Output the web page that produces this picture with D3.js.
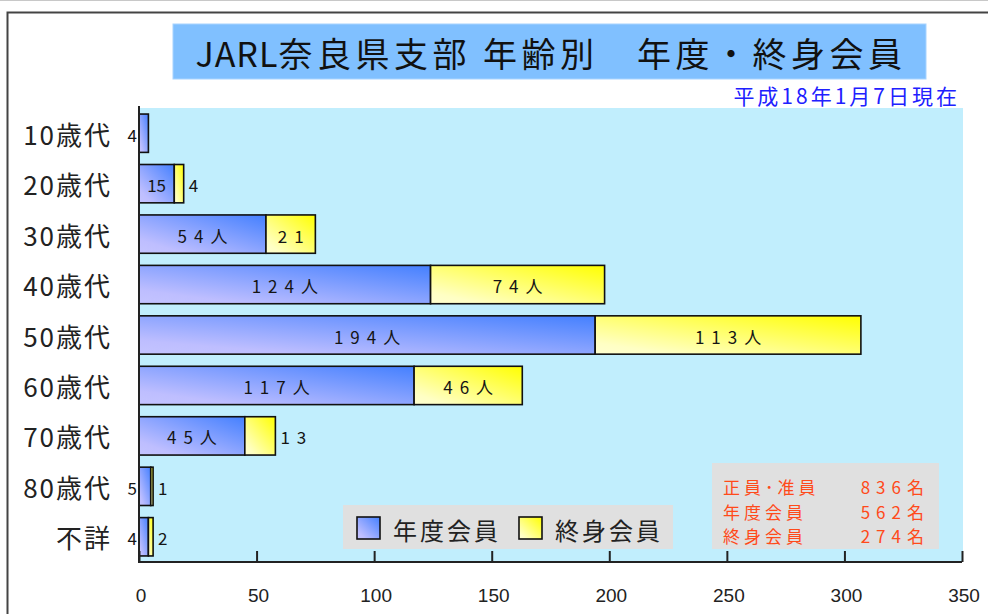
<!DOCTYPE html>
<html>
<head>
<meta charset="utf-8">
<script src="https://cdn.jsdelivr.net/npm/d3@7"></script>
<style>
  html, body { margin: 0; padding: 0; background: #fff; }
  svg { display: block; }
</style>
</head>
<body>
<svg id="chart"></svg>
<script>
// data
const categories = ['10歳代', '20歳代', '30歳代', '40歳代', '50歳代', '60歳代', '70歳代', '80歳代', '不詳'];
const annualMembers = [4, 15, 54, 124, 194, 117, 45, 5, 4];
const lifeMembers = [0, 4, 21, 74, 113, 46, 13, 1, 2];
const seriesNames = ['年度会員', '終身会員'];
const xTicks = [0, 50, 100, 150, 200, 250, 300, 350];
const summaryLabels = ['正員･准員', '年度会員', '終身会員'];
const summaryValues = [836, 562, 274];
const titleParts = ['JARL', '奈良県支部 年齢別　年度・終身会員'];
const subtitleText = '平成18年1月7日現在';

const width = 988;
const height = 614;
const plot = {left: 139, right: 962, top: 108, bottom: 562};
const jp = '"Noto Sans CJK JP", "Noto Sans", sans-serif';

const svg = d3.select('#chart')
  .attr('width', width)
  .attr('height', height)
  .attr('viewBox', [0, 0, width, height]);

// gradients for the two series
const defs = svg.append('defs');
const grads = [
  {id: 'gBlue', stops: [[0, '#c4c4ff'], [0.18, '#bebeff'], [1, '#4480ff']]},
  {id: 'gYellow', stops: [[0, '#ffffd0'], [0.15, '#ffffc4'], [1, '#ffff00']]}
];
grads.forEach(g => {
  const lg = defs.append('linearGradient')
    .attr('id', g.id)
    .attr('x1', 0).attr('y1', 1).attr('x2', 1).attr('y2', 0);
  g.stops.forEach(s => lg.append('stop').attr('offset', s[0]).attr('stop-color', s[1]));
});
const fills = ['url(#gBlue)', 'url(#gYellow)'];

// frame
svg.append('line').attr('x1', 0).attr('x2', width).attr('y1', 0.5).attr('y2', 0.5)
  .attr('stroke', '#c8c8c8');
svg.append('path').attr('d', `M7.5,${height}V12.5H${width}`)
  .attr('fill', 'none').attr('stroke', '#444').attr('stroke-width', 2);

// title
svg.append('rect')
  .attr('x', 173).attr('y', 24).attr('width', 753).attr('height', 55)
  .attr('fill', '#80c0ff').attr('stroke', '#a8d4ff');
const title = svg.append('text')
  .attr('x', 551).attr('y', 52)
  .attr('text-anchor', 'middle').attr('dominant-baseline', 'central')
  .attr('font-family', jp).attr('font-size', 34).attr('fill', '#111');
title.append('tspan').attr('letter-spacing', 1).text(titleParts[0]);
title.append('tspan').attr('letter-spacing', 4.5).text(titleParts[1]);

svg.append('text')
  .attr('x', 960).attr('y', 95)
  .attr('text-anchor', 'end').attr('dominant-baseline', 'central')
  .attr('letter-spacing', 3)
  .attr('font-family', jp).attr('font-size', 21).attr('fill', '#2020ff')
  .text(subtitleText);

// plot background
svg.append('rect')
  .attr('x', plot.left).attr('y', plot.top)
  .attr('width', plot.right - plot.left + 1).attr('height', plot.bottom - plot.top)
  .attr('fill', '#c1eefd');

const x = d3.scaleLinear().domain([0, 350]).range([plot.left, plot.right]);
const y = d3.scaleBand().domain(categories).range([plot.top, plot.bottom])
  .paddingInner(0.24).paddingOuter(0.12);

// stacked segments
const rows = categories.map((c, i) => ({
  cat: c,
  segs: [
    {s: 0, v: annualMembers[i], x0: 0, x1: annualMembers[i]},
    {s: 1, v: lifeMembers[i], x0: annualMembers[i], x1: annualMembers[i] + lifeMembers[i]}
  ]
}));

const rowG = svg.append('g').selectAll('g').data(rows).join('g');

rowG.selectAll('rect')
  .data(d => d.segs.filter(s => s.v > 0).map(s => ({...s, cat: d.cat})))
  .join('rect')
  .attr('x', d => x(d.x0))
  .attr('y', d => y(d.cat))
  .attr('width', d => x(d.x1) - x(d.x0))
  .attr('height', y.bandwidth())
  .attr('fill', d => fills[d.s])
  .attr('stroke', '#111')
  .attr('stroke-width', 1.6);

// value labels
const wideLs = 7;
rowG.selectAll('text')
  .data(d => d.segs.filter(s => s.v > 0).map(s => ({...s, cat: d.cat})))
  .join('text')
  .each(function(d) {
    const w = x(d.x1) - x(d.x0);
    const inside = d.v >= 15;
    const label = d.v >= 40 ? d.v + '人' : String(d.v);
    const ls = (inside && w < 45) || d.v < 10 ? 0 : wideLs;
    let px, anchor;
    if (inside) {
      px = (x(d.x0) + x(d.x1)) / 2 + ls / 2;
      anchor = 'middle';
    } else if (d.s === 0) {
      px = x(d.x0) - 2;
      anchor = 'end';
    } else {
      px = x(d.x1) + 5;
      anchor = 'start';
    }
    d3.select(this)
      .attr('x', px)
      .attr('y', y(d.cat) + y.bandwidth() / 2 + 1)
      .attr('text-anchor', anchor)
      .attr('dominant-baseline', 'central')
      .attr('letter-spacing', ls)
      .attr('font-family', jp)
      .attr('font-size', 17)
      .attr('fill', '#151515')
      .text(label);
  });

// category labels
svg.append('g').selectAll('text').data(categories).join('text')
  .attr('x', 112)
  .attr('y', d => y(d) + y.bandwidth() / 2)
  .attr('text-anchor', 'end')
  .attr('dominant-baseline', 'central')
  .attr('letter-spacing', 2)
  .attr('font-family', jp)
  .attr('font-size', 26)
  .attr('fill', '#222')
  .text(d => d);

// axes
const xAxis = svg.append('g')
  .attr('transform', `translate(0,${plot.bottom})`)
  .call(d3.axisTop(x).tickValues(xTicks).tickSize(11).tickFormat(''));
xAxis.select('.domain').attr('stroke', '#222').attr('stroke-width', 2)
  .attr('d', `M${plot.left},0H${plot.right}`);
xAxis.selectAll('.tick line').attr('stroke', '#222').attr('stroke-width', 2);

svg.append('g').selectAll('text').data(xTicks).join('text')
  .attr('x', d => x(d) + 2)
  .attr('y', 595)
  .attr('text-anchor', 'middle')
  .attr('dominant-baseline', 'central')
  .attr('font-family', '"Liberation Sans Narrow", "Liberation Sans", sans-serif')
  .attr('font-size', 19)
  .attr('fill', '#222')
  .text(d => d);

svg.append('line')
  .attr('x1', plot.left).attr('x2', plot.left)
  .attr('y1', plot.top - 2).attr('y2', plot.bottom + 1)
  .attr('stroke', '#222').attr('stroke-width', 2);

// legend
const legend = svg.append('g');
legend.append('rect')
  .attr('x', 343).attr('y', 505).attr('width', 330).attr('height', 44)
  .attr('fill', '#e0e0e0');
const legItem = legend.selectAll('g.item').data(seriesNames).join('g')
  .attr('class', 'item')
  .attr('transform', (d, i) => `translate(${357 + i * 162},517)`);
legItem.append('rect')
  .attr('width', 23).attr('height', 22)
  .attr('fill', (d, i) => fills[i])
  .attr('stroke', '#111').attr('stroke-width', 1.6);
legItem.append('text')
  .attr('x', 36).attr('y', 12)
  .attr('dominant-baseline', 'central')
  .attr('letter-spacing', 3)
  .attr('font-family', jp).attr('font-size', 24).attr('fill', '#222')
  .text(d => d);

// totals box
const totals = svg.append('g');
totals.append('rect')
  .attr('x', 712).attr('y', 463).attr('width', 227).attr('height', 86)
  .attr('fill', '#e0e0e0');
const lineY = i => 494 + i * 24.7;
totals.selectAll('text.lab').data(summaryLabels).join('text')
  .attr('class', 'lab')
  .attr('x', 723).attr('y', (d, i) => lineY(i))
  .attr('letter-spacing', 4)
  .attr('font-family', jp).attr('font-size', 17).attr('fill', '#ff4a1a')
  .text(d => d);
totals.selectAll('text.val').data(summaryValues).join('text')
  .attr('class', 'val')
  .attr('x', 930).attr('y', (d, i) => lineY(i))
  .attr('text-anchor', 'end')
  .attr('letter-spacing', 6)
  .attr('font-family', jp).attr('font-size', 17).attr('fill', '#ff4a1a')
  .text(d => d + '名');
</script>
</body>
</html>
